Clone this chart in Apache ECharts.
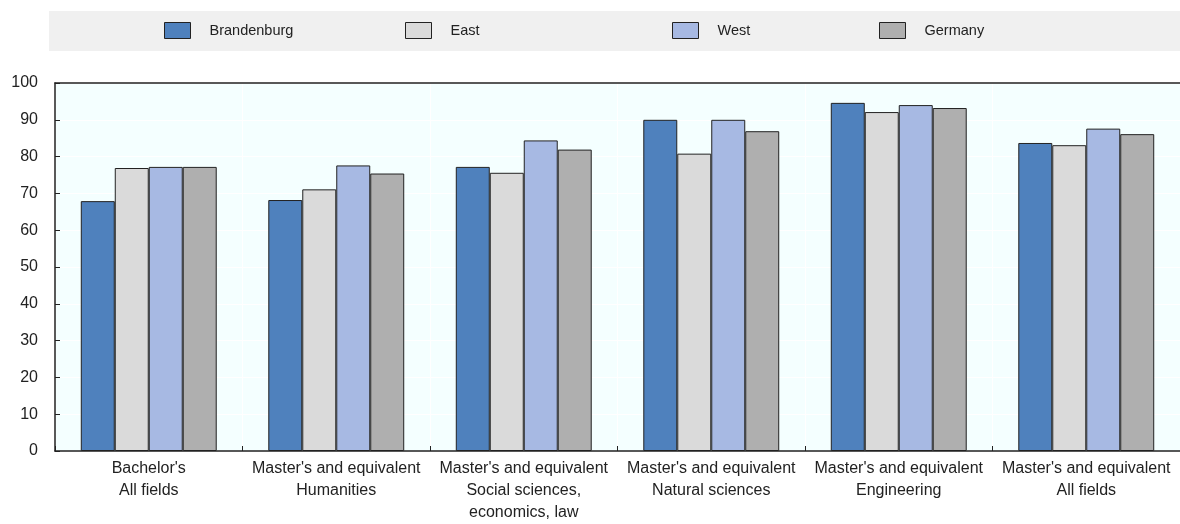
<!DOCTYPE html>
<html>
<head>
<meta charset="utf-8">
<script src="https://cdn.jsdelivr.net/npm/echarts@6/dist/echarts.min.js"></script>
<style>
  html, body { margin: 0; padding: 0; background: #fff; }
  #chart { width: 1180px; height: 524px; }
</style>
</head>
<body>
<div id="chart"></div>
<script>
// Categories (degree level + field of study)
const categories = [
  "Bachelor's\nAll fields",
  "Master's and equivalent\nHumanities",
  "Master's and equivalent\nSocial sciences,\neconomics, law",
  "Master's and equivalent\nNatural sciences",
  "Master's and equivalent\nEngineering",
  "Master's and equivalent\nAll fields"
];

// Series values (%)
const brandenburg = [67.9, 68.2, 77.2, 90.0, 94.6, 83.7];
const east        = [76.9, 71.1, 75.6, 80.8, 92.1, 83.1];
const west        = [77.2, 77.6, 84.4, 90.0, 94.0, 87.6];
const germany     = [77.2, 75.4, 81.9, 86.9, 93.2, 86.1];

const seriesNames = ['Brandenburg', 'East', 'West', 'Germany'];
const seriesData  = [brandenburg, east, west, germany];
const colors      = ['#4f81bd', '#dadada', '#a7b9e3', '#afafaf'];
const legendLeft  = [164, 405, 672, 879];

const font = '"Liberation Sans", Arial, sans-serif';

const chart = echarts.init(document.getElementById('chart'));

chart.setOption({
  animation: false,
  color: colors,
  textStyle: { fontFamily: font },
  graphic: [{
    type: 'rect',
    shape: { x: 49, y: 11, width: 1131, height: 40 },
    style: { fill: '#f0f0f0' },
    z: -1
  }],
  legend: seriesNames.map((name, i) => ({
    data: [name],
    left: legendLeft[i],
    top: 22,
    padding: 0,
    itemWidth: 26,
    itemHeight: 16,
    icon: 'rect',
    selectedMode: false,
    itemStyle: { borderColor: '#222', borderWidth: 1 },
    textStyle: { fontFamily: font, fontSize: 14.5, color: '#222', padding: [2, 0, 0, 14] }
  })),
  grid: {
    left: 55,
    top: 83,
    right: 0,
    height: 370,
    show: true,
    backgroundColor: '#f4ffff',
    borderWidth: 0
  },
  xAxis: [{
    type: 'category',
    data: categories,
    axisLine: { lineStyle: { color: '#222', width: 1.5 } },
    axisTick: { show: true, inside: true, length: 5, alignWithLabel: false, lineStyle: { color: '#222' } },
    splitLine: { show: true, lineStyle: { color: '#ffffff', width: 1 } },
    axisLabel: {
      fontFamily: font,
      fontSize: 16,
      color: '#222',
      lineHeight: 22,
      margin: 7,
      interval: 0
    }
  }, {
    // top frame line of the plot area
    type: 'category',
    position: 'top',
    data: categories,
    axisLine: { show: true, lineStyle: { color: '#222', width: 1.5 } },
    axisTick: { show: false },
    axisLabel: { show: false },
    splitLine: { show: false }
  }],
  yAxis: {
    type: 'value',
    min: 0,
    max: 100,
    interval: 10,
    axisLine: { show: true, lineStyle: { color: '#222', width: 1.5 } },
    axisTick: { show: true, inside: true, length: 5, lineStyle: { color: '#222' } },
    splitLine: { show: true, lineStyle: { color: '#ffffff', width: 1 } },
    axisLabel: { fontFamily: font, fontSize: 16, color: '#222', margin: 17 }
  },
  series: seriesNames.map((name, i) => ({
    name: name,
    type: 'bar',
    data: seriesData[i],
    barGap: '0%',
    barCategoryGap: '27.5%',
    itemStyle: { color: colors[i], borderColor: '#222', borderWidth: 1 }
  }))
});
</script>
</body>
</html>
